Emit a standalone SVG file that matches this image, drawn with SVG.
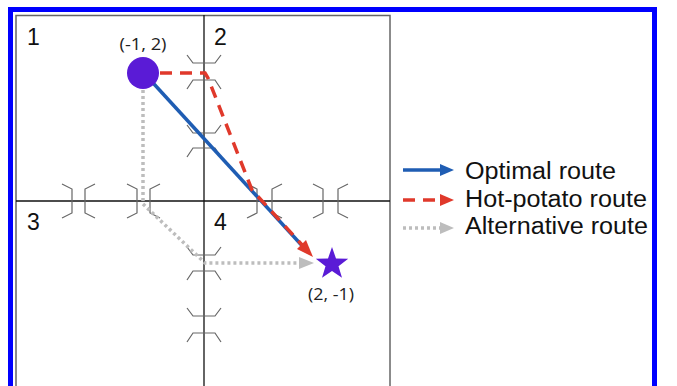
<svg xmlns="http://www.w3.org/2000/svg" xmlns:xlink="http://www.w3.org/1999/xlink" width="677" height="386" viewBox="0 0 677 386">
<style>
.gate{fill:none;stroke:#666;stroke-width:1.2}
.axis{stroke:#111;stroke-width:1.3}
.q{font-family:"Liberation Sans",Arial,sans-serif;font-size:23px;fill:#111}
.coord{font-family:"Open Sans","Liberation Sans",sans-serif;font-size:16px;fill:#222;text-anchor:middle}
.leg{font-family:"Liberation Sans",Arial,sans-serif;font-size:23px;fill:#111}
.blue{fill:none;stroke:#1f5db3;stroke-width:3.5}
.red{fill:none;stroke:#e0392b;stroke-width:3.5;stroke-dasharray:12 8}
.gray{fill:none;stroke:#bdbdbd;stroke-width:3.5;stroke-dasharray:3 3}
.node{fill:#5a1bd6}
</style>
<defs>
<path id="cup" class="gate" d="M-17,0 L-11,8 L11,8 L17,0"/>
<path id="cap" class="gate" d="M-17,9 L-11,0 L11,0 L17,9"/>
<path id="rb" class="gate" d="M0,-17 L10,-12 L10,12 L0,17"/>
<path id="lb" class="gate" d="M10,-17 L0,-12 L0,12 L10,17"/>
</defs>
<rect width="677" height="386" fill="#fff"/>
<rect x="10.5" y="9.5" width="644" height="400" fill="none" stroke="#0000ff" stroke-width="5"/>
<g id="map">
<rect x="16" y="15.5" width="374" height="400" fill="none" stroke="#666" stroke-width="1.5"/>
<line class="axis" x1="204" y1="15" x2="204" y2="386"/>
<line class="axis" x1="16" y1="201" x2="390" y2="201"/>
<text class="q" x="27" y="45">1</text>
<text class="q" x="214" y="45">2</text>
<text class="q" x="27" y="230">3</text>
<text class="q" x="214" y="230">4</text>
</g>
<g id="gates">
<use xlink:href="#cup" x="204" y="55"/>
<use xlink:href="#cap" x="204" y="80"/>
<use xlink:href="#cup" x="204" y="125"/>
<use xlink:href="#cap" x="204" y="148"/>
<use xlink:href="#cup" x="204" y="247"/>
<use xlink:href="#cap" x="204" y="271"/>
<use xlink:href="#cup" x="204" y="308"/>
<use xlink:href="#cap" x="204" y="333"/>
<use xlink:href="#rb" x="62" y="201"/>
<use xlink:href="#lb" x="85" y="201"/>
<use xlink:href="#rb" x="127" y="201"/>
<use xlink:href="#lb" x="150" y="201"/>
<use xlink:href="#rb" x="247" y="201"/>
<use xlink:href="#lb" x="272" y="201"/>
<use xlink:href="#rb" x="313" y="201"/>
<use xlink:href="#lb" x="338" y="201"/>
</g>
<g id="connectors">
<path class="gray" d="M143,90 L143,204 L205,263 L300,263"/>
<polygon points="314,263 299,257 299,269" fill="#bdbdbd"/>
<path class="blue" d="M143,72 L306,250"/>
<path class="red" d="M160,73 L205,73 L208,78 L252,190 L304,247"/>
<polygon points="313,257 297,249 306,240" fill="#e0392b"/>
</g>
<g id="start">
<circle class="node" cx="143" cy="73" r="16"/>
<text class="coord" x="143" y="50" textLength="47" lengthAdjust="spacingAndGlyphs">(-1, 2)</text>
</g>
<g id="goal">
<polygon class="node" points="332,247 336,258.5 348.2,258.8 338.5,266.2 342,277.8 332,271 322,277.8 325.5,266.2 315.8,258.8 328,258.5"/>
<text class="coord" x="331" y="300" textLength="46" lengthAdjust="spacingAndGlyphs">(2, -1)</text>
</g>
<g id="legend">
<line x1="403" y1="170" x2="441" y2="170" stroke="#1f5db3" stroke-width="3.5"/>
<polygon points="454,170 440,164 440,176" fill="#1f5db3"/>
<line x1="403" y1="200" x2="441" y2="200" stroke="#e0392b" stroke-width="3.5" stroke-dasharray="12 8"/>
<polygon points="454,200 440,194 440,206" fill="#e0392b"/>
<line x1="403" y1="228" x2="441" y2="228" stroke="#bdbdbd" stroke-width="3.5" stroke-dasharray="3 3"/>
<polygon points="454,228 440,222 440,234" fill="#bdbdbd"/>
<text class="leg" x="465" y="179" textLength="151" lengthAdjust="spacingAndGlyphs">Optimal route</text>
<text class="leg" x="465" y="207" textLength="182" lengthAdjust="spacingAndGlyphs">Hot-potato route</text>
<text class="leg" x="465" y="234" textLength="183" lengthAdjust="spacingAndGlyphs">Alternative route</text>
</g>
</svg>
